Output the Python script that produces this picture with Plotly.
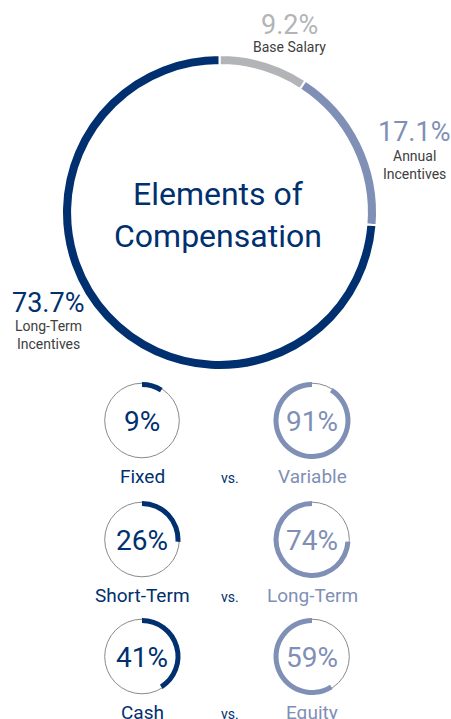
import plotly.graph_objects as go

W, H = 451, 719

# ---- data ----
elements = ["Base Salary", "Annual<br>Incentives", "Long-Term<br>Incentives"]
element_pct = [9.2, 17.1, 73.7]
pair_left = ["Fixed", "Short-Term", "Cash"]
pair_right = ["Variable", "Long-Term", "Equity"]
left_pct = [9, 26, 41]
right_pct = [91, 74, 59]

NAVY = "#00306f"
LIGHT = "#7f8fb6"
GRAY = "#b3b4b7"
TEXT_GRAY = "#404040"
FONT = "Roboto"

def px(x):
    return x / W

def py(y):
    return 1 - y / H

def domain(cx, cy, r):
    return dict(x=[px(cx - r), px(cx + r)], y=[py(cy + r), py(cy - r)])

fig = go.Figure()

# big donut
BCX, BCY, BR = 219.5, 212.5, 157.5
fig.add_trace(go.Pie(
    values=element_pct, labels=elements, sort=False, direction="clockwise",
    rotation=0, hole=0.936, textinfo="none",
    marker=dict(colors=[GRAY, LIGHT, NAVY], line=dict(color="white", width=2)),
    domain=domain(BCX, BCY, BR), showlegend=False, hoverinfo="label+value",
))

annotations = []
def add_text(text, x, y, size, color, **kw):
    annotations.append(dict(text=text, x=px(x), y=py(y), xref="paper", yref="paper",
                            showarrow=False, xanchor="center", yanchor="middle",
                            font=dict(family=FONT, size=size, color=color), **kw))

pct_pos = [(289, 25), (414, 132), (48, 303)]
lab_pos = [(289, 47), (414, 165), (48, 335)]
pct_col = [GRAY, LIGHT, NAVY]
for i in range(3):
    add_text(f"{element_pct[i]}%", pct_pos[i][0], pct_pos[i][1], 27, pct_col[i])
    add_text(elements[i], lab_pos[i][0], lab_pos[i][1], 14, TEXT_GRAY)

add_text("Elements of<br>Compensation", 218, 215, 32, NAVY)

# small donuts
LCX, RCX = 142, 312
ROWS_Y = [420.5, 539.5, 656.5]
SR = 38.5
shapes = []
for i, cy in enumerate(ROWS_Y):
    for cx in (LCX, RCX):
        rr = 37.3
        shapes.append(dict(type="circle", xref="paper", yref="paper",
                           x0=px(cx - rr), x1=px(cx + rr), y0=py(cy + rr), y1=py(cy - rr),
                           line=dict(color="#8a8a8a", width=1), layer="below"))
    fig.add_trace(go.Pie(
        values=[left_pct[i], right_pct[i]], labels=[pair_left[i], pair_right[i]],
        sort=False, direction="clockwise", rotation=0, hole=0.87, textinfo="none",
        marker=dict(colors=[NAVY, "rgba(0,0,0,0)"], line=dict(width=0)),
        domain=domain(LCX, cy, SR), showlegend=False, hoverinfo="label+value",
    ))
    fig.add_trace(go.Pie(
        values=[left_pct[i], right_pct[i]], labels=[pair_left[i], pair_right[i]],
        sort=False, direction="clockwise", rotation=0, hole=0.87, textinfo="none",
        marker=dict(colors=["rgba(0,0,0,0)", LIGHT], line=dict(width=0)),
        domain=domain(RCX, cy, SR), showlegend=False, hoverinfo="label+value",
    ))
    add_text(f"{left_pct[i]}%", LCX, cy + 1, 28, NAVY)
    add_text(f"{right_pct[i]}%", RCX, cy + 1, 28, LIGHT)
    add_text(pair_left[i], LCX, cy + 56, 19, NAVY)
    add_text(pair_right[i], RCX, cy + 56, 19, LIGHT)
    add_text("vs.", 230, cy + 57, 14, NAVY)

fig.update_layout(
    width=W, height=H, margin=dict(l=0, r=0, t=0, b=0),
    paper_bgcolor="white", plot_bgcolor="white",
    annotations=annotations, shapes=shapes, showlegend=False,
)

fig.write_html("out.html")
